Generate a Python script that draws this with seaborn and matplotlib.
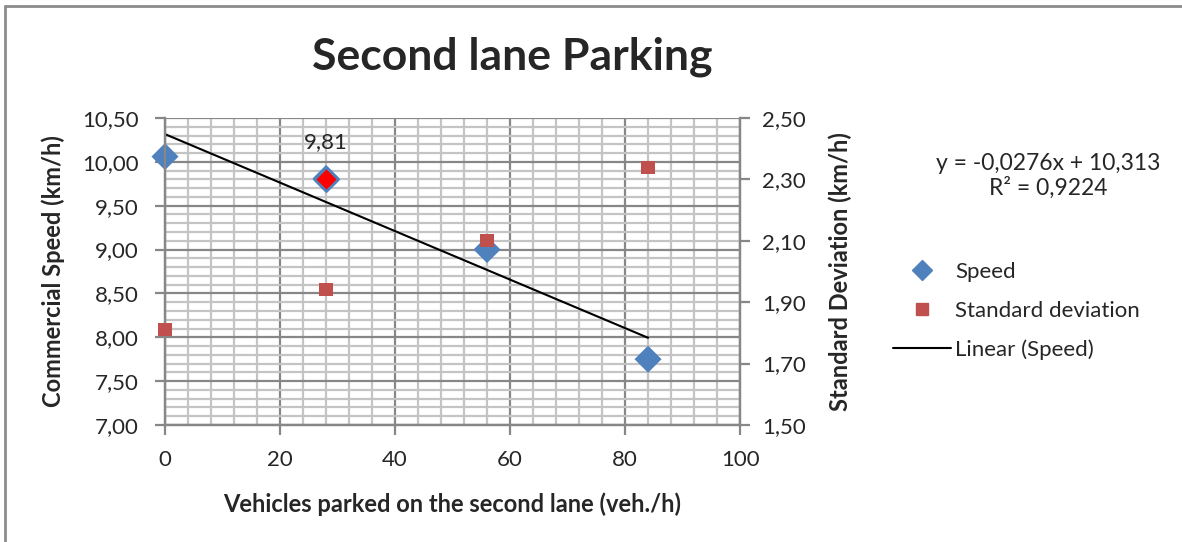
import seaborn as sns
import matplotlib.pyplot as plt
import pandas as pd
from matplotlib.ticker import MultipleLocator, FuncFormatter
from matplotlib.lines import Line2D

vehicles = [0, 28, 56, 84]
speed = [10.06, 9.81, 9.00, 7.75]
std_dev = [1.81, 1.94, 2.10, 2.34]
highlight_x = 28
speed_ticks = [7.0, 7.5, 8.0, 8.5, 9.0, 9.5, 10.0, 10.5]
std_ticks = [1.5, 1.7, 1.9, 2.1, 2.3, 2.5]

df = pd.DataFrame({"Vehicles": vehicles, "Speed": speed, "Standard deviation": std_dev})

sns.set_style("white")
plt.rcParams['font.family'] = ['Lato', 'DejaVu Sans']

blue = '#4F81BD'
red = '#C0504D'
major_gray = '#878787'
minor_gray = '#c4c4c4'

fig = plt.figure(figsize=(11.82, 5.42), dpi=100)
ax = fig.add_axes([0.1396, 0.2159, 0.4865, 0.5664])
ax2 = ax.twinx()

# trendline
sns.regplot(data=df, x='Vehicles', y='Speed', scatter=False, ci=None, truncate=True,
            line_kws=dict(color='black', lw=1.5), ax=ax)
sns.scatterplot(data=df, x='Vehicles', y='Speed', marker='D', s=190, color=blue,
                edgecolor='none', ax=ax, zorder=3, clip_on=False)
hl = df[df.Vehicles == highlight_x]
sns.scatterplot(data=hl, x='Vehicles', y='Speed', marker='D', s=150, color='red',
                edgecolor=blue, linewidth=2, ax=ax, zorder=4, clip_on=False)
for _, r in hl.iterrows():
    ax.annotate(f"{r.Speed:.2f}".replace('.', ','), (r.Vehicles, r.Speed),
                xytext=(0, 26), textcoords='offset points', ha='center', va='center',
                fontsize=16)

sns.scatterplot(data=df, x='Vehicles', y='Standard deviation', marker='s', s=90, color=red,
                edgecolor='none', ax=ax2, zorder=3, clip_on=False)

comma = FuncFormatter(lambda v, p: f"{v:.2f}".replace('.', ','))

ax.set_xlim(0, 100)
ax.set_ylim(speed_ticks[0], speed_ticks[-1])
ax2.set_ylim(std_ticks[0], std_ticks[-1])
ax.xaxis.set_major_locator(MultipleLocator(20))
ax.xaxis.set_minor_locator(MultipleLocator(4))
ax.set_yticks(speed_ticks)
ax.yaxis.set_minor_locator(MultipleLocator(0.1))
ax2.set_yticks(std_ticks)
ax.yaxis.set_major_formatter(comma)
ax2.yaxis.set_major_formatter(comma)

ax.grid(which='minor', color=minor_gray, lw=1.6, zorder=0)
ax.grid(which='major', color=major_gray, lw=1.6, zorder=0)
ax.set_axisbelow(True)

for a in (ax, ax2):
    for s in a.spines.values():
        s.set_color(major_gray)
        s.set_linewidth(1.6)
    a.spines['top'].set_visible(False)
ax.tick_params(which='major', direction='out', length=7, width=1.6, color=major_gray,
               labelsize=16, bottom=True, left=True)
ax.tick_params(axis='x', pad=11)
ax.tick_params(axis='y', pad=12)
ax.tick_params(which='minor', length=0)
ax2.tick_params(which='major', direction='out', length=7, width=1.6, color=major_gray,
                labelsize=16, pad=9, right=True)

ax.set_xlabel('Vehicles parked on the second lane (veh./h)', fontsize=17,
              fontweight='bold', labelpad=16)
ax.set_ylabel('Commercial Speed (km/h)', fontsize=17, fontweight='bold', labelpad=12)
ax2.set_ylabel('Standard Deviation (km/h)', fontsize=17, fontweight='bold', labelpad=16)

fig.text(512 / 1182, 1 - 57 / 542, 'Second lane Parking', fontsize=32, fontweight='bold',
         ha='center', va='center')

fig.text(1048 / 1182, 1 - 176 / 542, 'y = -0,0276x + 10,313\nR² = 0,9224', fontsize=16.5,
         ha='center', va='center', linespacing=1.15)

handles = [Line2D([], [], marker='D', ls='none', color=blue, ms=10),
           Line2D([], [], marker='s', ls='none', color=red, ms=8),
           Line2D([], [], color='black', lw=1.5)]
fig.legend(handles, ['Speed', 'Standard deviation', 'Linear (Speed)'],
           loc='center left', bbox_to_anchor=(893 / 1182, 1 - 311 / 542), frameon=False,
           fontsize=16, handlelength=2.6, handletextpad=0.2, labelspacing=0.85,
           borderaxespad=0, borderpad=0)

fig.add_artist(Line2D([5 / 1182, 5 / 1182], [0, 1 - 6 / 542], transform=fig.transFigure,
                      color='#8c8c8c', lw=2))
fig.add_artist(Line2D([5 / 1182, 1], [1 - 6 / 542, 1 - 6 / 542], transform=fig.transFigure,
                      color='#8c8c8c', lw=2))

fig.savefig('out.png', dpi=100)
